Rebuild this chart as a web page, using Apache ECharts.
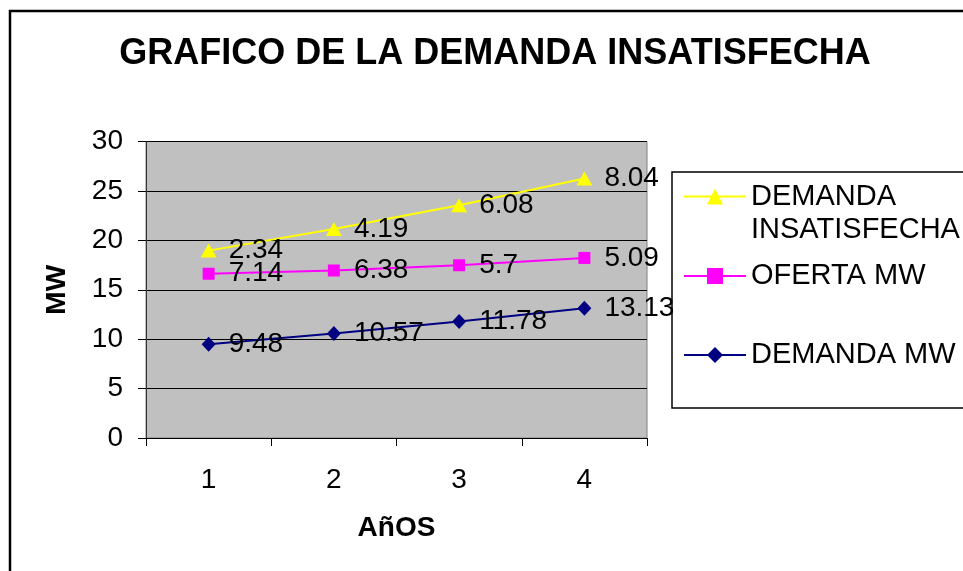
<!DOCTYPE html>
<html>
<head>
<meta charset="utf-8">
<script src="https://cdn.jsdelivr.net/npm/echarts@6/dist/echarts.min.js"></script>
<style>
  html, body { margin: 0; padding: 0; background: #fff; }
  #chart { width: 963px; height: 571px; }
</style>
</head>
<body>
<div id="chart"></div>
<script>
// Years on the category axis
const years = ['1', '2', '3', '4'];
// Values per series (stacked: demand, then supply, then unmet demand on top)
const demandaMW = [9.48, 10.57, 11.78, 13.13];
const ofertaMW = [7.14, 6.38, 5.7, 5.09];
const demandaInsatisfecha = [2.34, 4.19, 6.08, 8.04];
// Y axis ticks
const yMin = 0, yMax = 30, yStep = 5;

const FONT = '"Liberation Sans", Arial, sans-serif';

const labelStyle = {
  show: true,
  position: 'right',
  distance: 12,
  color: '#000',
  fontFamily: FONT,
  fontSize: 28
};

function legendBlock(name, top, extra) {
  return Object.assign({
    data: [name],
    orient: 'vertical',
    left: 678,
    top: top,
    itemWidth: 62,
    itemHeight: 20,
    textStyle: { fontFamily: FONT, fontSize: 29, color: '#000', lineHeight: 33 },
    selectedMode: false
  }, extra || {});
}

const chart = echarts.init(document.getElementById('chart'), null, { renderer: 'canvas' });

chart.setOption({
  animation: false,
  backgroundColor: '#fff',
  title: {
    text: 'GRAFICO DE LA DEMANDA INSATISFECHA',
    left: 490,
    top: 31,
    textAlign: 'center',
    textStyle: { fontFamily: FONT, fontSize: 36, fontWeight: 'bold', color: '#000' }
  },
  graphic: [
    {
      type: 'rect',
      shape: { x: 10, y: 11, width: 1000, height: 600 },
      style: { fill: 'none', stroke: '#000', lineWidth: 2.5 },
      silent: true
    },
    {
      type: 'rect',
      shape: { x: 672, y: 172, width: 320, height: 236 },
      style: { fill: 'none', stroke: '#000', lineWidth: 1.5 },
      silent: true
    }
  ],
  legend: [
    // leading blank line keeps the marker level with the first text line
    legendBlock('DEMANDA INSATISFECHA', 142, {
      formatter: () => '\nDEMANDA\nINSATISFECHA'
    }),
    legendBlock('OFERTA MW', 254.5),
    legendBlock('DEMANDA MW', 333.5)
  ],
  grid: {
    left: 146,
    right: 316,
    top: 141.5,
    bottom: 133,
    show: true,
    backgroundColor: '#C0C0C0',
    borderColor: '#808080',
    borderWidth: 1
  },
  xAxis: {
    type: 'category',
    data: years,
    boundaryGap: true,
    name: 'AñOS',
    nameLocation: 'middle',
    nameGap: 76,
    nameTextStyle: { fontFamily: FONT, fontSize: 28, fontWeight: 'bold', color: '#000' },
    axisLine: { show: true, lineStyle: { color: '#000', width: 1 } },
    axisTick: { show: true, length: 8, alignWithLabel: false, lineStyle: { color: '#000' } },
    axisLabel: { fontFamily: FONT, fontSize: 28, color: '#000', margin: 28 },
    splitLine: { show: false }
  },
  yAxis: {
    type: 'value',
    min: yMin,
    max: yMax,
    interval: yStep,
    name: 'MW',
    nameLocation: 'middle',
    nameGap: 75,
    nameTextStyle: { fontFamily: FONT, fontSize: 28, fontWeight: 'bold', color: '#000' },
    axisLine: { show: true, lineStyle: { color: '#333', width: 1 } },
    axisTick: { show: true, length: 8, lineStyle: { color: '#000' } },
    axisLabel: { fontFamily: FONT, fontSize: 28, color: '#000', margin: 23 },
    splitLine: { show: true, lineStyle: { color: '#000', width: 1 } }
  },
  series: [
    {
      name: 'DEMANDA MW',
      type: 'line',
      stack: 'total',
      data: demandaMW,
      symbol: 'diamond',
      symbolSize: [14, 15],
      itemStyle: { color: '#000080' },
      lineStyle: { color: '#000080', width: 2 },
      label: Object.assign({}, labelStyle, { distance: 13 }),
      z: 3
    },
    {
      name: 'OFERTA MW',
      type: 'line',
      stack: 'total',
      data: ofertaMW,
      symbol: 'rect',
      symbolSize: 12,
      itemStyle: { color: '#FF00FF' },
      lineStyle: { color: '#FF00FF', width: 2 },
      label: Object.assign({}, labelStyle, { distance: 14 }),
      z: 3
    },
    {
      name: 'DEMANDA INSATISFECHA',
      type: 'line',
      stack: 'total',
      data: demandaInsatisfecha,
      symbol: 'triangle',
      symbolSize: [16, 14],
      itemStyle: { color: '#FFFF00' },
      lineStyle: { color: '#FFFF00', width: 2 },
      label: Object.assign({}, labelStyle, { distance: 12 }),
      z: 3
    }
  ]
});
</script>
</body>
</html>
